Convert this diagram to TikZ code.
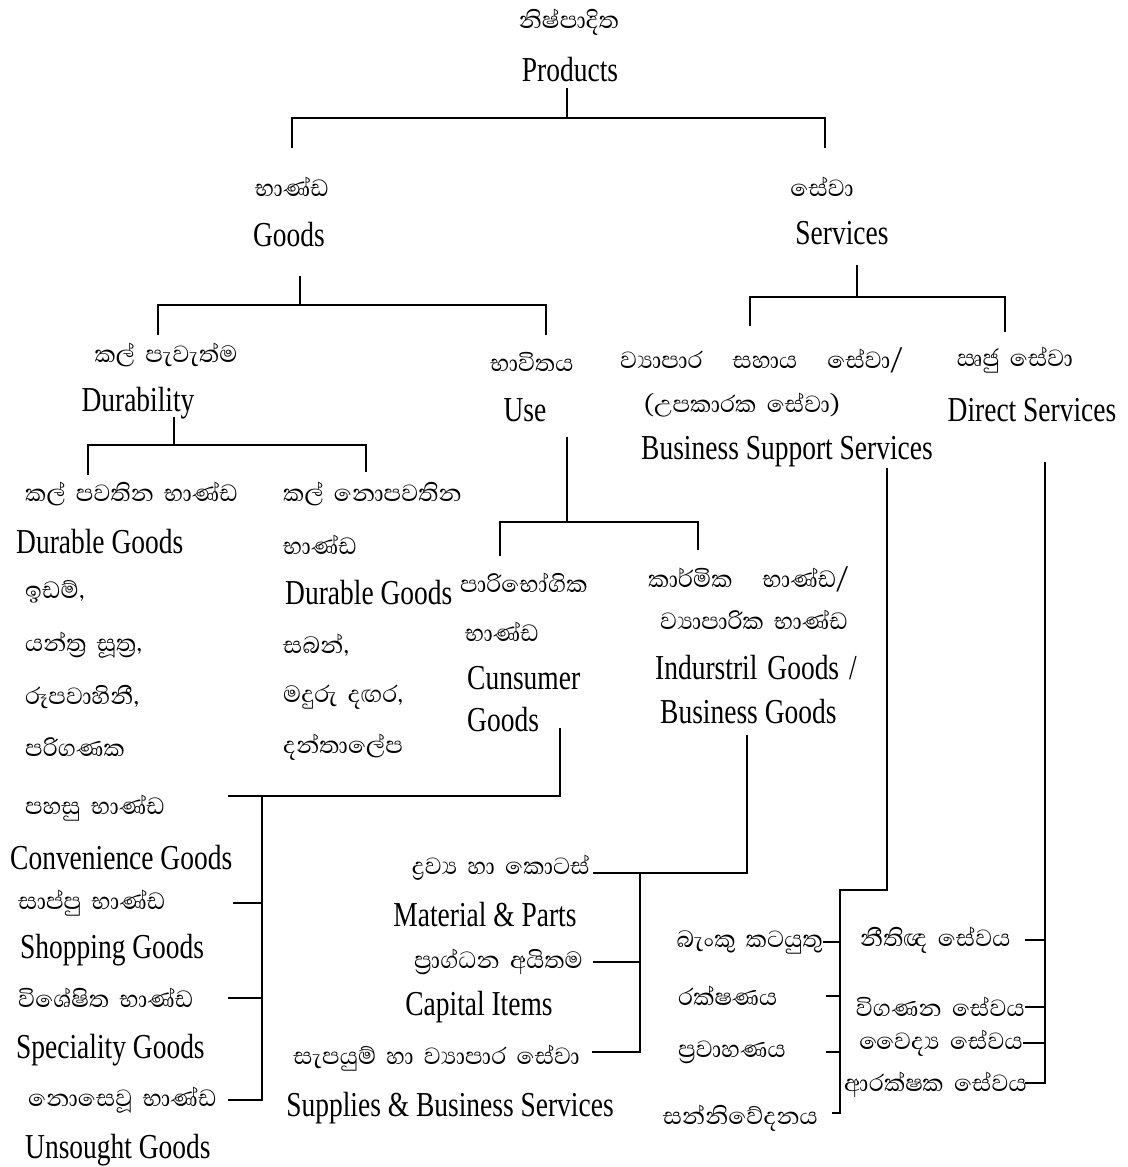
\documentclass[tikz,border=0pt]{standalone}
\usepackage{fontspec}
\newfontfamily\enfamily[FakeStretch=0.785]{Liberation Serif}
\newfontfamily\sifamily[Script=Sinhala,WordSpace=1.8]{Abhaya Libre}
\newcommand\enfnt{\enfamily\fontsize{35}{40}\selectfont}
\newcommand\sifnt{\sifamily\fontsize{30}{34}\selectfont}
\begin{document}
\begin{tikzpicture}[x=1pt,y=-1pt,
  en/.style={font=\enfnt,inner sep=0pt},
  si/.style={font=\sifnt,inner sep=0pt},
  link/.style={line width=2.8pt,line join=miter}]
\useasboundingbox[fill=white] (0,0) rectangle (1127,1167);

% ---- top levels
\node[si] (prodsi) at (569,22) {නිෂ්පාදිත};
\node[en] (prod) at (570,70) {Products};
\node[si] (goodsi) at (292,187) {භාණ්ඩ};
\node[en] (goods) at (289,235) {Goods};
\node[si] (servsi) at (822,187) {සේවා};
\node[en] (serv) at (842,233) {Services};
\node[si] (dursi) at (166,355) {කල් පැවැත්ම};
\node[en] (dur) at (138,403) {Durability};
\node[si] (usesi) at (532,362) {භාවිතය};
\node[en] (use) at (525,410) {Use};
\node[si,anchor=west] (bsssi) at (620,360) {ව්‍යාපාර\hspace{30pt}සහාය\hspace{30pt}සේවා/};
\node[si] (bsssib) at (742,405) {(උපකාරක සේවා)};
\node[en] (bss) at (787,452) {Business Support Services};
\node[si] (dssi) at (1015,360) {ඍජු සේවා};
\node[en] (ds) at (1032,410) {Direct Services};

% ---- durability children
\node[si,anchor=west] (dgsi) at (25,494) {කල් පවතින භාණ්ඩ};
\node[en,anchor=west] (dg) at (16,542) {Durable Goods};
\node[si,anchor=west] (dga) at (25,592) {ඉඩම්,};
\node[si,anchor=west] (dgb) at (25,645) {යන්ත්‍ර සූත්‍ර,};
\node[si,anchor=west] (dgc) at (25,697) {රූපවාහිනී,};
\node[si,anchor=west] (dgd) at (25,747) {පරිගණක};
\node[si,anchor=west] (ndgsi) at (283,494) {කල් නොපවතින};
\node[si,anchor=west] (ndgsib) at (283,545) {භාණ්ඩ};
\node[en,anchor=west] (ndg) at (285,593) {Durable Goods};
\node[si,anchor=west] (ndga) at (283,645) {සබන්,};
\node[si,anchor=west] (ndgb) at (283,697) {මදුරු දඟර,};
\node[si,anchor=west] (ndgc) at (283,747) {දන්තාලේප};

% ---- use children
\node[si,anchor=west] (cgsi) at (460,583) {පාරිභෝගික};
\node[si,anchor=west] (cgsib) at (465,632) {භාණ්ඩ};
\node[en,anchor=west] (cg) at (467,678) {Cunsumer};
\node[en,anchor=west] (cgb) at (467,720) {Goods};
\node[si,anchor=west] (igsi) at (648,579) {කාර්මික\hspace{30pt}භාණ්ඩ/};
\node[si,anchor=west] (igsib) at (660,620) {ව්‍යාපාරික භාණ්ඩ};
\node[en,anchor=west] (ig) at (655,668) {Indurstril\hspace{10pt}Goods\hspace{10pt}/};
\node[en,anchor=west] (igb) at (660,712) {Business Goods};

% ---- consumer children
\node[si,anchor=west] (convsi) at (25,808) {පහසු භාණ්ඩ};
\node[en,anchor=west] (conv) at (10,858) {Convenience Goods};
\node[si,anchor=west] (shopsi) at (18,903) {සාප්පු භාණ්ඩ};
\node[en,anchor=west] (shop) at (20,950) {Shopping Goods};
\node[si,anchor=west] (specsi) at (18,998) {විශේෂිත භාණ්ඩ};
\node[en,anchor=west] (spec) at (16,1050) {Speciality Goods};
\node[si,anchor=west] (unssi) at (28,1100) {නොසෙවූ භාණ්ඩ};
\node[en,anchor=west] (uns) at (25,1150) {Unsought Goods};

% ---- industrial children
\node[si,anchor=east] (matsi) at (590,868) {ද්‍රව්‍ය හා කොටස්};
\node[en] (mat) at (485,915) {Material \& Parts};
\node[si,anchor=east] (capsi) at (583,962) {ප්‍රාග්ධන අයිතම};
\node[en] (cap) at (479,1007) {Capital Items};
\node[si,anchor=east] (supsi) at (580,1058) {සැපයුම් හා ව්‍යාපාර සේවා};
\node[en] (sup) at (450,1108) {Supplies \& Business Services};

% ---- business support children
\node[si,anchor=east] (bank) at (823,942) {බැංකු කටයුතු};
\node[si,anchor=west] (ins) at (678,996) {රක්ෂණය};
\node[si,anchor=west] (trans) at (678,1052) {ප්‍රවාහණය};
\node[si,anchor=east] (comm) at (818,1118) {සන්නිවේදනය};

% ---- direct services children
\node[si,anchor=west] (legal) at (860,940) {නීතිඥ සේවය};
\node[si,anchor=east] (audit) at (1025,1007) {විගණන සේවය};
\node[si,anchor=east] (med) at (1023,1043) {වෛද්‍ය සේවය};
\node[si,anchor=east] (secu) at (1027,1085) {ආරක්ෂක සේවය};

% ---- junction coordinates
\coordinate (pA) at (567,88);   \coordinate (pB) at (567,118);
\coordinate (pL) at (292,148);  \coordinate (pR) at (825,148);
\coordinate (gA) at (300,276);  \coordinate (gB) at (300,305);
\coordinate (gL) at (158,335);  \coordinate (gR) at (546,335);
\coordinate (sA) at (857,265);  \coordinate (sB) at (857,297);
\coordinate (sL) at (750,326);  \coordinate (sR) at (1005,332);
\coordinate (dA) at (174,417);  \coordinate (dB) at (174,445);
\coordinate (dL) at (88,475);   \coordinate (dR) at (366,472);
\coordinate (uA) at (567,437);  \coordinate (uB) at (567,522);
\coordinate (uL) at (500,556);  \coordinate (uR) at (698,550);
\coordinate (cA) at (560,728);  \coordinate (cB) at (560,796);
\coordinate (cT) at (228,796);  \coordinate (cS) at (262,796);
\coordinate (cE) at (262,1100); \coordinate (cU) at (228,1100);
\coordinate (iA) at (747,735);  \coordinate (iB) at (747,873);
\coordinate (iT) at (593,873);  \coordinate (iS) at (640,873);
\coordinate (iE) at (640,1052); \coordinate (iU) at (592,1052);
\coordinate (bA) at (887,468);  \coordinate (bB) at (887,890);
\coordinate (bS) at (840,890);  \coordinate (bE) at (840,1113);
\coordinate (bU) at (832,1113);
\coordinate (eA) at (1045,462); \coordinate (eE) at (1045,1083);
\coordinate (eU) at (1025,1083);

% ---- connectors
\draw[link] (pA) -- (pB);
\draw[link] (pL) |- (pB) -| (pR);
\draw[link] (gA) -- (gB);
\draw[link] (gL) |- (gB) -| (gR);
\draw[link] (sA) -- (sB);
\draw[link] (sL) |- (sB) -| (sR);
\draw[link] (dA) -- (dB);
\draw[link] (dL) |- (dB) -| (dR);
\draw[link] (uA) -- (uB);
\draw[link] (uL) |- (uB) -| (uR);
\draw[link] (cA) -- (cB) -- (cT);
\draw[link] (cS) -- (cE) -- (cU);
\draw[link] (shopsi.east -| 233,0) coordinate (cShop) -- (cShop -| cS);
\draw[link] (specsi.east -| 228,0) coordinate (cSpec) -- (cSpec -| cS);
\draw[link] (iA) -- (iB) -- (iT);
\draw[link] (iS) -- (iE) -- (iU);
\draw[link] (capsi.east -| 593,0) coordinate (iCap) -- (iCap -| iS);
\draw[link] (bA) -- (bB) -- (bS) -- (bE) -- (bU);
\draw[link] (bank.east) -- (bank.east -| bS);
\draw[link] (ins.east -| 826,0) coordinate (bIns) -- (bIns -| bS);
\draw[link] (trans.east -| 826,0) coordinate (bTr) -- (bTr -| bS);
\draw[link] (eA) -- (eE) -- (eU);
\draw[link] (legal.east -| 1025,0) coordinate (eL) -- (eL -| eA);
\draw[link] (audit.east) -- (audit.east -| eA);
\draw[link] (med.east) -- (med.east -| eA);
\end{tikzpicture}
\end{document}
